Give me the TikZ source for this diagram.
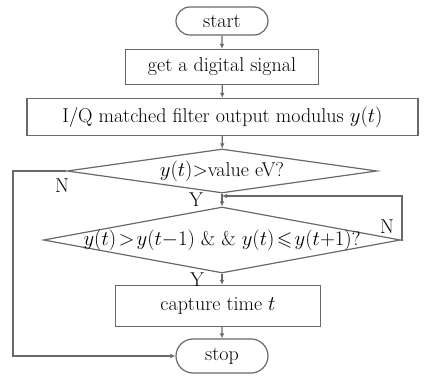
\documentclass[tikz,border=0pt]{standalone}
\usepackage{amssymb}
\usetikzlibrary{shapes.geometric,shapes.misc,arrows.meta}
\definecolor{linegray}{RGB}{105,105,105}
\begin{document}
\begin{tikzpicture}[x=1pt,y=-1pt,
  every node/.style={font=\fontsize{20}{24}\selectfont, text=black},
  line/.style={draw=linegray, line width=1.2pt},
  flow/.style={line, -{Latex[length=5pt,width=4.5pt]}},
  term/.style={line, rounded rectangle, inner sep=0pt},
  procbox/.style={line, rectangle, inner sep=0pt},
  decide/.style={line, diamond, inner sep=0pt},
  tag/.style={inner sep=0pt}]
\useasboundingbox (0,0) rectangle (426,377);

\node[term, minimum width=92pt, minimum height=28pt] (start) at (222,21) {start};
\node[procbox, minimum width=193pt, minimum height=35pt] (get) at (222,67) {get a digital signal};
\node[procbox, minimum width=391pt, minimum height=37pt] (iq) at (222.5,117) {I/Q matched filter output modulus $y(t)$};
\node[decide, minimum width=310pt, minimum height=44pt] (d1) at (222,171) {\makebox[0pt]{$y(t)$>value eV?}};
\node[decide, minimum width=357pt, minimum height=66pt] (d2) at (222,240) {\makebox[0pt]{$y(t)\!>\!y(t{-}1)$ \& \& $y(t)\!\leqslant\! y(t{+}1)$?}};
\node[procbox, minimum width=205pt, minimum height=41pt] (cap) at (218,306) {capture time $t$};
\node[term, minimum width=92pt, minimum height=34pt] (stop) at (222,356) {stop};

\coordinate (join) at (222,196);

\draw[flow] (start) -- (get);
\draw[flow] (get) -- (iq);
\draw[flow] (iq) -- (d1);
\draw[flow] (d1) -- (d2);
\draw[flow] (d2.south) -- (d2.south |- cap.north);
\draw[flow] (cap.south -| stop.north) -- (stop);
\draw[flow] (d1.west) -- (13,171) -- (13,356) -- (stop.west);
\draw[flow] (d2.east) -- (402,240) -- (402,196) -- (join);

\node[tag] (n1) at (62,186) {N};
\node[tag] (y1) at (196,200) {Y};
\node[tag] (n2) at (387,227) {N};
\node[tag] (y2) at (197,280) {Y};
\end{tikzpicture}
\end{document}
